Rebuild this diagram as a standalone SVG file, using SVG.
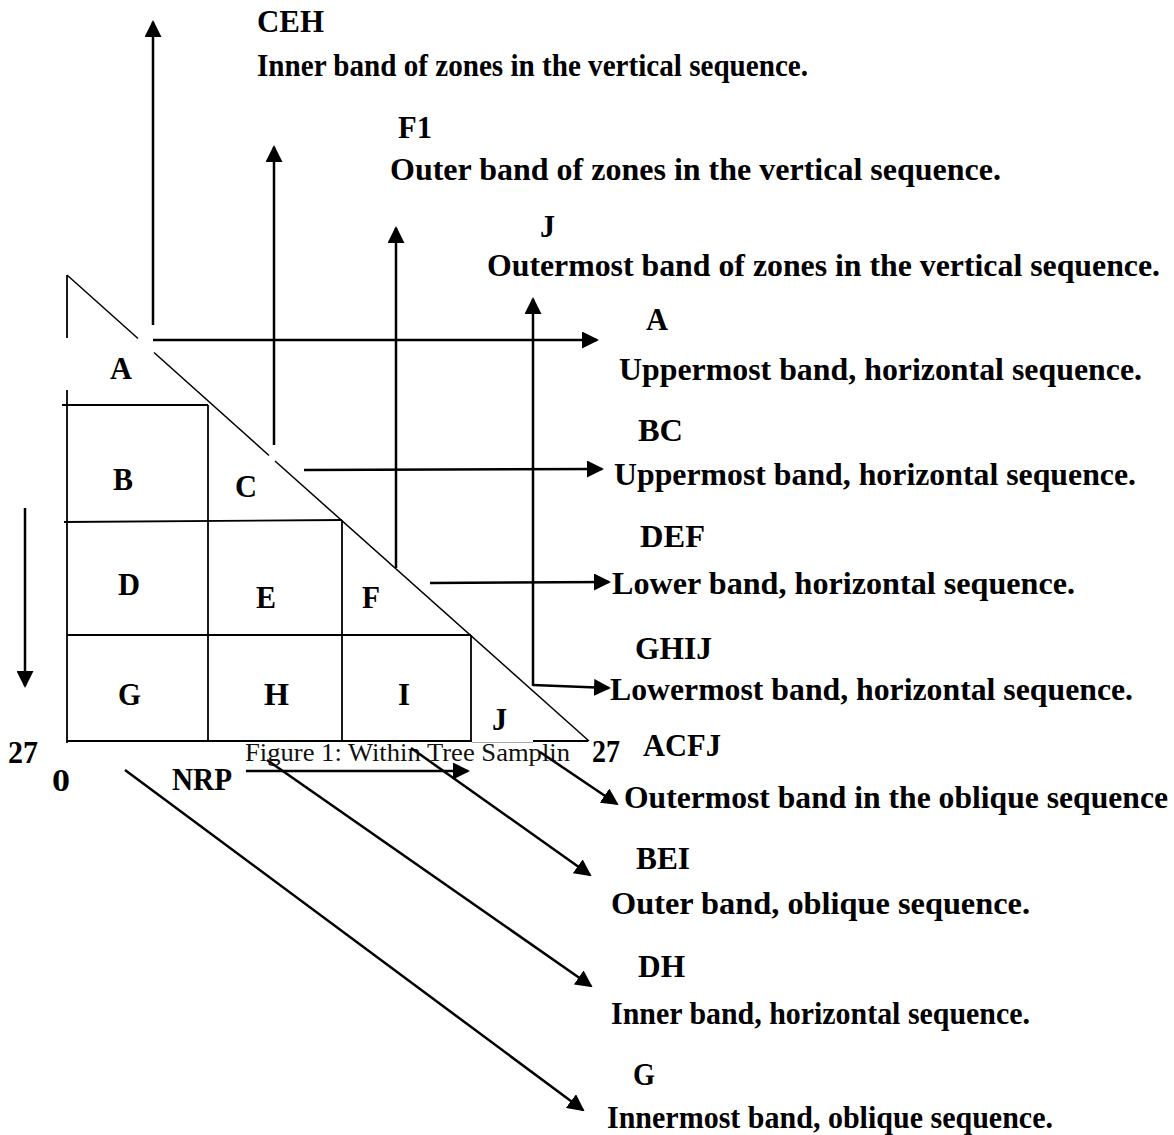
<svg xmlns="http://www.w3.org/2000/svg" width="1174" height="1135" viewBox="0 0 1174 1135">
<style>
.t{font-family:"Liberation Serif","Times New Roman",serif;font-weight:bold;font-size:32px;fill:#000}
.cap{font-family:"Liberation Serif","Times New Roman",serif;font-size:25.5px;fill:#111}
.g{stroke:#000;stroke-width:1.8;fill:none}
.d{stroke:#000;stroke-width:1.5;fill:none}
.a{stroke:#000;stroke-width:2.5;fill:none;marker-end:url(#ah)}
</style>
<defs>
<marker id="ah" markerWidth="17" markerHeight="17" refX="15" refY="8.5" orient="auto" markerUnits="userSpaceOnUse">
<path d="M0,0 L17,8.5 L0,17 z" fill="#000"/>
</marker>
</defs>
<rect width="1174" height="1135" fill="#fff"/>

<g id="grid">
<line class="g" x1="67" y1="275" x2="67" y2="338"/>
<line class="g" x1="67" y1="390" x2="67" y2="743"/>
<line class="g" x1="62" y1="405" x2="208" y2="405"/>
<line class="g" x1="64" y1="522" x2="342" y2="520"/>
<line class="g" x1="67" y1="635" x2="471" y2="635"/>
<line class="g" x1="67" y1="741" x2="472" y2="741"/>
<line class="g" x1="533" y1="741" x2="588" y2="741"/>
<line class="g" x1="208" y1="405" x2="208" y2="741"/>
<line class="g" x1="342" y1="520" x2="342" y2="741"/>
<line class="g" x1="471" y1="635" x2="471" y2="741"/>
<line class="d" x1="67" y1="275" x2="138" y2="338.5"/>
<line class="d" x1="154" y1="352.5" x2="269" y2="455.5"/>
<line class="d" x1="275" y1="461" x2="589" y2="741"/>
</g>

<g id="caption">
<rect x="243" y="742" width="330" height="27" fill="#fff"/>
<line x1="472" y1="742.5" x2="533" y2="742.5" stroke="#aaa" stroke-width="1"/>
<text class="cap" x="245" y="761" textLength="325" lengthAdjust="spacingAndGlyphs">Figure 1: Within Tree Samplin</text>
</g>

<g id="cells">
<g id="cell-A"><text class="t" x="110" y="379" textLength="22" lengthAdjust="spacingAndGlyphs">A</text></g>
<g id="cell-B"><text class="t" x="113" y="490" textLength="20" lengthAdjust="spacingAndGlyphs">B</text></g>
<g id="cell-C"><text class="t" x="235" y="497" textLength="22" lengthAdjust="spacingAndGlyphs">C</text></g>
<g id="cell-D"><text class="t" x="118" y="595" textLength="22" lengthAdjust="spacingAndGlyphs">D</text></g>
<g id="cell-E"><text class="t" x="256" y="608" textLength="20" lengthAdjust="spacingAndGlyphs">E</text></g>
<g id="cell-F"><text class="t" x="362" y="608" textLength="18" lengthAdjust="spacingAndGlyphs">F</text></g>
<g id="cell-G"><text class="t" x="118" y="705" textLength="23" lengthAdjust="spacingAndGlyphs">G</text></g>
<g id="cell-H"><text class="t" x="264" y="705" textLength="25" lengthAdjust="spacingAndGlyphs">H</text></g>
<g id="cell-I"><text class="t" x="398" y="705" textLength="12" lengthAdjust="spacingAndGlyphs">I</text></g>
<g id="cell-J"><text class="t" x="492" y="730" textLength="15" lengthAdjust="spacingAndGlyphs">J</text></g>
</g>

<g id="axis-labels">
<text class="t" x="8" y="763" textLength="30" lengthAdjust="spacingAndGlyphs">27</text>
<text class="t" x="52" y="791" textLength="18" lengthAdjust="spacingAndGlyphs">0</text>
<text class="t" x="172" y="790" textLength="60" lengthAdjust="spacingAndGlyphs">NRP</text>
<text class="t" x="592" y="762" textLength="28" lengthAdjust="spacingAndGlyphs">27</text>
</g>

<g id="label-CEH">
<text class="t" x="257" y="32" textLength="67" lengthAdjust="spacingAndGlyphs">CEH</text>
<text class="t" x="257" y="76" textLength="551" lengthAdjust="spacingAndGlyphs">Inner band of zones in the vertical sequence.</text>
</g>
<g id="label-F1">
<text class="t" x="398" y="138" textLength="34" lengthAdjust="spacingAndGlyphs">F1</text>
<text class="t" x="390" y="180" textLength="611" lengthAdjust="spacingAndGlyphs">Outer band of zones in the vertical sequence.</text>
</g>
<g id="label-J">
<text class="t" x="540" y="237" textLength="15" lengthAdjust="spacingAndGlyphs">J</text>
<text class="t" x="487" y="276" textLength="673" lengthAdjust="spacingAndGlyphs">Outermost band of zones in the vertical sequence.</text>
</g>
<g id="label-A">
<text class="t" x="646" y="330" textLength="22" lengthAdjust="spacingAndGlyphs">A</text>
<text class="t" x="619" y="380" textLength="523" lengthAdjust="spacingAndGlyphs">Uppermost band, horizontal sequence.</text>
</g>
<g id="label-BC">
<text class="t" x="638" y="441" textLength="45" lengthAdjust="spacingAndGlyphs">BC</text>
<text class="t" x="614" y="485" textLength="522" lengthAdjust="spacingAndGlyphs">Uppermost band, horizontal sequence.</text>
</g>
<g id="label-DEF">
<text class="t" x="640" y="547" textLength="65" lengthAdjust="spacingAndGlyphs">DEF</text>
<text class="t" x="612" y="594" textLength="463" lengthAdjust="spacingAndGlyphs">Lower band, horizontal sequence.</text>
</g>
<g id="label-GHIJ">
<text class="t" x="635" y="659" textLength="77" lengthAdjust="spacingAndGlyphs">GHIJ</text>
<text class="t" x="610" y="700" textLength="523" lengthAdjust="spacingAndGlyphs">Lowermost band, horizontal sequence.</text>
</g>
<g id="label-ACFJ">
<text class="t" x="643" y="756" textLength="78" lengthAdjust="spacingAndGlyphs">ACFJ</text>
<text class="t" x="624" y="808" style="font-size:31.5px" textLength="544" lengthAdjust="spacingAndGlyphs">Outermost band in the oblique sequence</text>
</g>
<g id="label-BEI">
<text class="t" x="636" y="869" textLength="54" lengthAdjust="spacingAndGlyphs">BEI</text>
<text class="t" x="611" y="914" textLength="419" lengthAdjust="spacingAndGlyphs">Outer band, oblique sequence.</text>
</g>
<g id="label-DH">
<text class="t" x="638" y="977" textLength="47" lengthAdjust="spacingAndGlyphs">DH</text>
<text class="t" x="611" y="1024" textLength="419" lengthAdjust="spacingAndGlyphs">Inner band, horizontal sequence.</text>
</g>
<g id="label-G">
<text class="t" x="633" y="1085" textLength="22" lengthAdjust="spacingAndGlyphs">G</text>
<text class="t" x="607" y="1128" textLength="446" lengthAdjust="spacingAndGlyphs">Innermost band, oblique sequence.</text>
</g>

<g id="connectors">
<line class="a" x1="153" y1="325" x2="153" y2="22"/>
<line class="a" x1="274" y1="445" x2="274" y2="147"/>
<line class="a" x1="396" y1="568" x2="396" y2="228"/>
<line class="a" x1="533" y1="686" x2="533" y2="299"/>
<line class="a" x1="153" y1="340" x2="597" y2="340"/>
<line class="a" x1="304" y1="470" x2="602" y2="469"/>
<line class="a" x1="430" y1="583" x2="609" y2="582"/>
<polyline class="a" points="533,685 609,688"/>
<line class="a" x1="25" y1="508" x2="25" y2="686"/>
<line class="a" x1="246" y1="771" x2="468" y2="771"/>
<line class="a" x1="540" y1="752" x2="617" y2="804"/>
<line class="a" x1="411" y1="748" x2="590" y2="875"/>
<line class="a" x1="267" y1="760" x2="591" y2="986"/>
<line class="a" x1="125" y1="770" x2="583" y2="1110"/>
</g>
</svg>
